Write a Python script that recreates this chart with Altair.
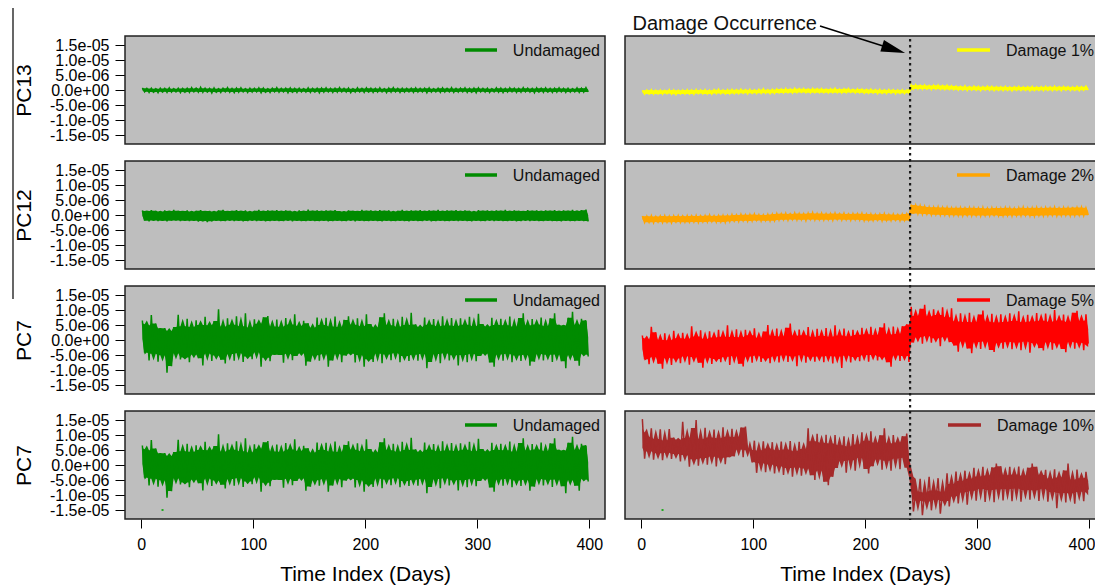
import altair as alt
import pandas as pd

# ---------------- data (series values in units of 1e-06) ----------------
# one reading every 2 days, starting at day 1

pc13_undamaged = [
    0.7, -0.6, 0.5, -0.8, 0.6, -0.7, 0.4, -0.9, 0.6, -0.6, 0.5, -0.8, 0.7, -0.7, 0.4, -0.6, 0.6, -0.9, 0.5, -0.7,
    0.6, -0.8, 0.8, -0.6, 0.5, -0.7, 0.9, -0.8, 0.6, -0.6, 0.5, -1.0, 0.7, -0.7, 0.4, -0.8, 0.6, -0.6, 0.8, -0.7,
    0.5, -0.9, 0.6, -0.7, 0.7, -0.6, 0.4, -0.8, 0.6, -0.7, 0.5, -0.6, 0.7, -0.9, 0.6, -0.7, 0.4, -0.8, 0.6, -0.6,
    0.8, -0.7, 0.5, -0.6, 0.6, -0.9, 0.7, -0.7, 0.5, -0.8, 0.6, -0.6, 0.4, -0.7, 0.7, -0.8, 0.5, -0.6, 0.6, -0.9,
    0.6, -0.7, 0.7, -0.6, 0.5, -0.8, 0.6, -0.7, 0.8, -0.6, 0.5, -0.7, 0.6, -0.9, 0.4, -0.7, 0.7, -0.6, 0.5, -0.8,
    0.7, -0.6, 0.6, -0.8, 0.5, -0.7, 0.7, -0.6, 0.4, -0.9, 0.6, -0.7, 0.8, -0.6, 0.5, -0.8, 0.6, -0.7, 0.5, -0.6,
    0.6, -0.8, 0.7, -0.7, 0.5, -0.6, 0.6, -0.9, 0.7, -0.7, 0.4, -0.6, 0.6, -0.8, 0.7, -0.7, 0.5, -0.6, 0.8, -0.8,
    0.5, -0.7, 0.6, -0.6, 0.7, -0.8, 0.5, -0.7, 0.6, -0.9, 0.7, -0.6, 0.5, -0.7, 0.6, -0.8, 0.4, -0.6, 0.7, -0.7,
    0.6, -0.9, 0.5, -0.7, 0.7, -0.6, 0.6, -0.8, 0.5, -0.7, 0.8, -0.6, 0.6, -0.7, 0.5, -0.9, 0.7, -0.6, 0.6, -0.8,
    0.7, -0.6, 0.5, -0.8, 0.6, -0.7, 0.7, -0.6, 0.5, -0.8, 0.6, -0.7, 0.4, -0.6, 0.7, -0.8, 0.6, -0.7, 0.8, -0.6,
]

pc13_damage1 = [
    -0.1, -1.4, 0.0, -1.3, 0.1, -1.4, -0.1, -1.3, 0.0, -1.4, -0.1, -1.2, 0.1, -1.4, 0.0, -1.5, -0.1, -1.3, 0.0, -1.4,
    0.1, -1.3, 0.0, -1.4, 0.2, -1.2, 0.0, -1.3, 0.1, -1.3, -0.1, -1.4, 0.1, -1.2, 0.3, -1.2, 0.0, -1.3, 0.1, -1.3,
    0.2, -1.2, 0.1, -1.2, 0.3, -1.1, 0.1, -1.3, 0.2, -1.1, 0.0, -1.2, 0.2, -1.1, 0.4, -1.1, 0.1, -1.2, 0.2, -1.1,
    0.4, -1.0, 0.3, -1.0, 0.5, -0.9, 0.3, -1.0, 0.6, -0.9, 0.4, -0.8, 0.5, -0.9, 0.3, -1.0, 0.5, -0.9, 0.4, -0.9,
    0.5, -0.9, 0.3, -1.0, 0.4, -0.9, 0.6, -0.9, 0.3, -1.0, 0.4, -0.9, 0.5, -0.8, 0.2, -1.0, 0.4, -0.9, 0.3, -1.1,
    0.2, -1.1, 0.3, -1.0, 0.1, -1.2, 0.2, -1.1, 0.0, -1.2, 0.2, -1.0, 0.1, -1.3, 0.0, -1.1, 0.1, -1.2, -0.1, -1.1,
    1.7, 0.3, 1.8, 0.3, 1.6, 0.2, 1.7, 0.3, 1.5, 0.1, 1.6, 0.3, 1.7, 0.2, 1.5, 0.1, 1.6, 0.2, 1.4, 0.1,
    1.3, -0.1, 1.2, 0.0, 1.4, -0.2, 1.1, 0.0, 1.3, -0.1, 1.2, -0.2, 1.1, 0.0, 1.3, -0.1, 1.2, -0.2, 1.1, -0.1,
    1.1, -0.2, 1.2, -0.1, 1.0, -0.3, 1.1, -0.1, 1.2, -0.2, 1.0, -0.1, 1.1, -0.3, 1.2, -0.2, 1.0, -0.1, 1.1, -0.2,
    1.2, -0.1, 1.1, -0.2, 1.3, -0.1, 1.1, -0.2, 1.2, 0.0, 1.1, -0.2, 1.0, -0.1, 1.2, -0.2, 1.1, -0.1, 1.3, 0.0,
]

pc12_undamaged = [
    1.5, -1.9, 1.3, -2.1, 1.6, -1.8, 1.4, -2.0, 1.2, -1.9, 1.5, -2.1, 1.3, -1.9, 1.7, -1.8, 1.4, -2.0, 1.3, -1.9,
    1.5, -2.0, 1.2, -1.9, 1.4, -2.2, 1.6, -2.0, 1.3, -2.4, 1.4, -2.1, 1.2, -1.9, 1.5, -2.0, 1.7, -2.0, 1.3, -1.8,
    1.4, -2.0, 1.6, -1.9, 1.3, -2.1, 1.5, -2.0, 1.2, -1.8, 1.4, -2.0, 1.7, -1.9, 1.3, -2.1, 1.5, -2.0, 1.4, -1.9,
    1.6, -2.0, 1.3, -2.0, 1.5, -1.8, 1.4, -2.1, 1.2, -1.9, 1.5, -2.0, 1.3, -2.0, 1.8, -1.9, 1.4, -2.0, 1.5, -2.0,
    1.3, -1.9, 1.5, -2.1, 1.4, -2.0, 1.6, -1.9, 1.3, -2.0, 1.2, -2.0, 1.5, -1.8, 1.4, -2.1, 1.3, -1.9, 1.7, -2.0,
    1.4, -2.0, 1.5, -1.9, 1.3, -2.0, 1.6, -2.1, 1.4, -1.9, 1.5, -2.0, 1.2, -2.0, 1.4, -1.9, 1.7, -2.0, 1.3, -2.1,
    1.5, -1.9, 1.4, -2.0, 1.6, -2.0, 1.3, -1.8, 1.5, -2.1, 1.4, -2.0, 1.7, -1.9, 1.3, -2.0, 1.5, -2.0, 1.4, -1.9,
    1.6, -2.0, 1.3, -1.9, 1.5, -2.0, 1.4, -2.1, 1.2, -1.9, 1.6, -2.0, 1.4, -2.0, 1.5, -1.8, 1.3, -2.0, 1.5, -1.9,
    1.4, -2.0, 1.7, -2.0, 1.3, -1.9, 1.5, -2.1, 1.4, -2.0, 1.3, -1.8, 1.6, -2.0, 1.4, -1.9, 1.5, -2.0, 1.3, -2.0,
    1.5, -1.9, 1.4, -2.0, 1.6, -2.0, 1.3, -2.1, 1.5, -1.9, 1.4, -2.0, 1.7, -2.0, 1.3, -1.9, 1.6, -2.0, 1.8, -2.1,
]

pc12_damage2 = [
    -0.3, -2.5, -0.4, -2.4, -0.2, -2.6, -0.5, -2.3, -0.3, -2.5, -0.2, -2.4, -0.4, -2.6, -0.3, -2.3, -0.2, -2.5, -0.4, -2.4,
    -0.2, -2.4, -0.3, -2.3, -0.1, -2.5, -0.3, -2.3, -0.2, -2.4, 0.0, -2.2, -0.3, -2.4, -0.2, -2.3, -0.1, -2.5, -0.2, -2.2,
    0.1, -2.0, 0.0, -2.2, 0.3, -1.9, 0.1, -2.1, 0.2, -2.0, 0.4, -1.8, 0.1, -2.1, 0.0, -1.9, 0.2, -2.0, 0.3, -1.9,
    0.5, -1.7, 0.4, -1.6, 0.6, -1.8, 0.3, -1.5, 0.7, -1.7, 0.5, -1.6, 0.4, -1.9, 0.6, -1.5, 0.8, -1.7, 0.5, -1.6,
    0.6, -1.7, 0.4, -1.6, 0.5, -1.8, 0.7, -1.5, 0.4, -1.7, 0.6, -1.6, 0.3, -1.8, 0.5, -1.6, 0.4, -1.7, 0.6, -1.9,
    0.3, -1.8, 0.4, -1.9, 0.2, -1.7, 0.3, -2.0, 0.5, -1.8, 0.2, -1.9, 0.3, -1.7, 0.1, -2.0, 0.3, -1.8, 0.4, -1.9,
    3.5, 0.5, 3.3, 0.4, 3.1, 0.2, 2.9, 0.3, 2.7, 0.0, 2.6, 0.1, 2.7, -0.1, 2.5, 0.0, 2.6, -0.2, 2.4, -0.1,
    2.4, -0.2, 2.5, -0.3, 2.3, -0.1, 2.5, -0.3, 2.4, -0.2, 2.3, -0.4, 2.5, -0.2, 2.2, -0.3, 2.4, -0.1, 2.3, -0.3,
    2.3, -0.3, 2.5, -0.2, 2.4, -0.4, 2.2, -0.2, 2.4, -0.3, 2.6, -0.1, 2.3, -0.3, 2.4, -0.4, 2.5, -0.2, 2.3, -0.3,
    2.5, -0.2, 2.4, -0.1, 2.6, -0.3, 2.3, -0.2, 2.5, -0.1, 2.4, -0.3, 2.7, -0.2, 2.5, -0.1, 2.6, -0.2, 2.4, 0.0,
]

pc7_undamaged = [
    6.5, -4.2, 4.8, -6.8, 8.3, -4.6, 5.5, -7.2, 3.9, -5.1, 4.0, -10.9, 3.0, -8.7, 4.3, -4.4, 8.4, -6.5, 4.6, -5.8,
    7.1, -7.4, 4.3, -4.8, 6.6, -6.1, 5.0, -8.5, 7.7, -4.5, 4.9, -7.0, 6.3, -5.2, 10.2, -6.6, 4.4, -7.8, 7.2, -4.7,
    5.1, -6.9, 7.9, -4.3, 4.6, -7.3, 8.9, -5.5, 4.2, -6.4, 6.9, -4.1, 5.4, -8.9, 7.6, -5.9, 8.0, -7.1, 4.5, -4.9,
    6.8, -5.0, 4.4, -7.6, 7.3, -4.6, 5.2, -6.7, 8.6, -5.3, 4.7, -4.4, 6.4, -8.6, 5.6, -7.2, 4.1, -5.1, 7.5, -6.9,
    5.0, -4.7, 7.4, -8.9, 4.5, -6.8, 7.8, -4.6, 4.3, -7.4, 6.7, -5.2, 7.9, -4.5, 5.1, -7.5, 7.2, -5.0, 4.6, -8.9,
    8.6, -6.4, 5.3, -7.3, 4.2, -4.5, 7.6, -7.7, 8.9, -4.8, 4.9, -6.7, 7.1, -4.3, 4.4, -7.4, 7.7, -5.3, 5.0, -7.0,
    9.1, -4.9, 5.2, -6.9, 4.3, -4.6, 7.5, -9.4, 5.1, -7.3, 7.0, -4.7, 4.6, -7.7, 7.9, -4.4, 4.8, -6.8, 7.3, -5.1,
    4.7, -8.5, 7.2, -5.0, 5.1, -7.4, 7.7, -4.6, 4.6, -7.1, 8.7, -5.3, 5.3, -4.5, 4.5, -7.5, 7.4, -8.9, 5.0, -4.8,
    7.1, -6.9, 4.9, -4.6, 7.8, -7.4, 4.4, -5.2, 7.3, -7.0, 8.9, -4.9, 4.8, -8.6, 7.0, -7.2, 5.2, -4.7, 7.5, -6.8,
    4.6, -4.9, 7.2, -7.3, 8.9, -4.8, 5.1, -7.1, 4.8, -9.4, 7.4, -5.0, 9.4, -6.9, 5.0, -8.6, 7.1, -4.6, 6.5, -5.5,
]

pc7_damage5 = [
    1.5, -6.4, 0.2, -8.1, 4.4, -5.6, 2.6, -7.9, 0.0, -9.6, 2.2, -5.9, -0.1, -8.3, 3.1, -6.2, 0.6, -7.7, 2.4, -5.4,
    0.4, -8.2, 4.6, -5.7, 1.2, -7.6, 3.2, -9.2, 0.3, -5.8, 2.9, -8.0, 0.8, -6.3, 3.4, -7.4, 1.1, -5.6, 4.9, -8.3,
    1.0, -5.3, 3.6, -7.9, 0.9, -8.8, 3.4, -5.5, 1.6, -7.6, 3.9, -5.2, 0.7, -7.3, 2.8, -6.1, 5.0, -7.7, 1.3, -5.4,
    3.8, -7.5, 1.2, -5.1, 4.1, -7.3, 5.5, -5.4, 1.4, -8.7, 3.5, -5.0, 1.6, -7.6, 4.3, -5.6, 1.0, -7.2, 3.7, -5.5,
    1.3, -7.4, 4.0, -5.3, 1.1, -7.8, 4.9, -5.5, 1.5, -9.3, 3.8, -5.2, 1.2, -7.5, 3.4, -5.7, 1.7, -7.1, 4.1, -5.0,
    1.9, -7.2, 4.4, -5.0, 1.6, -6.8, 4.2, -5.6, 5.6, -7.4, 1.8, -8.9, 4.5, -5.1, 2.0, -7.0, 4.6, -5.3, 5.2, -7.3,
    11.1, -0.8, 8.0, 0.9, 10.4, -1.2, 11.7, 1.3, 7.8, -0.9, 10.2, 0.6, 8.3, -2.1, 10.9, 1.0, 7.6, -0.7, 10.6, -1.8,
    6.2, -3.9, 8.9, -0.4, 6.0, -2.8, 9.1, -4.4, 5.9, -0.7, 8.5, -3.0, 9.8, -0.5, 6.1, -3.3, 8.7, -4.0, 5.8, -0.9,
    8.6, -2.9, 6.0, -0.6, 8.9, -3.1, 6.3, -0.8, 9.6, -3.4, 5.9, -0.5, 8.4, -4.2, 6.2, -1.0, 9.0, -2.7, 6.4, -3.5,
    8.8, -0.7, 6.1, -3.2, 10.0, -1.1, 6.5, -3.0, 8.5, -4.1, 6.0, -0.6, 9.1, -2.9, 9.7, -0.9, 6.3, -3.4, 8.6, -1.2,
]

pc7_damage10 = [
    15.3, 2.1, 9.4, 4.6, 12.2, 1.8, 8.7, 3.9, 11.9, 1.6, 8.2, 4.1, 12.0, 2.0, 9.1, 3.7, 8.4, 1.2, 14.4, 3.3,
    9.0, -0.6, 12.3, 1.9, 15.0, -0.2, 8.6, 2.3, 12.4, 0.1, 9.2, 2.8, 11.8, -0.5, 8.9, 2.4, 12.6, 0.3, 9.4, 2.6,
    12.1, 2.9, 9.3, 5.2, 12.5, 2.6, 12.8, 4.9, 5.0, 0.9, 8.1, -2.6, 4.8, 0.6, 7.9, -2.4, 5.5, 0.2, 7.6, -2.8,
    4.9, -0.4, 7.8, -3.3, 5.2, -1.0, 8.0, -3.9, 4.6, -0.8, 7.7, -3.6, 5.3, -1.2, 12.2, -3.4, 7.9, -5.0, 10.4, -1.8,
    7.4, -5.6, 10.1, -6.7, 7.2, -3.9, 10.0, -1.0, 6.6, 1.3, 9.6, -2.6, 6.2, 1.6, 10.3, -1.9, 6.8, 2.4, 10.9, -1.3,
    8.1, -2.8, 11.2, -0.4, 7.3, 1.9, 9.9, -1.6, 12.2, 1.4, 7.2, -1.9, 10.0, 2.2, 7.5, -1.4, 9.6, 2.4, 10.5, -0.9,
    -3.9, -15.5, -8.8, -11.9, -4.6, -16.7, -9.2, -12.2, -3.9, -15.1, -8.5, -11.6, -4.4, -16.2, -8.9, -12.0, -2.8, -13.8, -6.3, -10.4,
    -2.2, -12.8, -5.3, -9.1, -1.9, -13.2, -4.6, -8.6, -0.9, -11.9, -3.8, -7.9, -0.6, -12.3, -3.5, -8.3, -0.8, -12.4, 0.5, -8.1,
    -0.4, -11.8, -3.4, -8.0, -0.6, -12.1, -3.2, -7.8, -0.5, -12.2, -3.6, -8.3, -0.9, -11.6, 0.5, -8.4, -0.6, -12.0, -3.3, -7.9,
    -1.6, -12.2, -4.6, -9.0, -1.4, -14.4, -4.2, -9.3, -1.8, -12.5, 0.5, -9.4, -4.9, -12.9, -1.5, -8.9, -4.4, -12.1, -2.3, -8.2,
]

damage_day = [240]
stray_day = [19]
stray_value = [-1.5e-05]

row_titles = ["PC13", "PC12", "PC7", "PC7"]
left_label = "Undamaged"
right_labels = ["Damage 1%", "Damage 2%", "Damage 5%", "Damage 10%"]
left_series = [pc13_undamaged, pc12_undamaged, pc7_undamaged, pc7_undamaged]
right_series = [pc13_damage1, pc12_damage2, pc7_damage5, pc7_damage10]

y_tick_values = [1.5e-05, 1.0e-05, 5.0e-06, 0.0, -5.0e-06, -1.0e-05, -1.5e-05]
y_tick_labels = ["1.5e-05", "1.0e-05", "5.0e-06", "0.0e+00", "-5.0e-06", "-1.0e-05", "-1.5e-05"]
x_tick_values = [0, 100, 200, 300, 400]
annotation_text = "Damage Occurrence"
x_title = "Time Index (Days)"

# ---------------- layout / styling (pixel positions inside the plot area) ----------------
FONT = "Liberation Sans"
GREEN = "#008B00"
right_colors = ["#FFFF00", "#FFA500", "#FF0000", "#A52A2A"]
W_ALL, H_ALL = 1087, 577
col_x = [(117, 597), (617, 1097)]
row_y = [(28 + 125 * r, 136 + 125 * r) for r in range(4)]
X_DOMAIN = [-14.5, 414]
Y_DOMAIN = [-1.8e-05, 1.8e-05]
left_legend = (457, 489, 592)
right_legend = [(949, 982, 1086), (949, 982, 1086), (949, 982, 1086), (940, 973, 1086)]

label_expr = (
    "[" + ",".join("'%s'" % s for s in y_tick_labels) + "]"
    + "[indexof([" + ",".join(repr(v) for v in y_tick_values) + "], datum.value)]"
)


def x_axis(col):
    if col == 1:
        extra = dict(labelFlush=16, labelFlushOffset=5.5)
    else:
        extra = dict(labelFlush=False)
    return alt.Axis(
        orient="bottom", offset=(row_y[3][1] - H_ALL), values=x_tick_values, format="d",
        title=x_title, titleFontSize=21, titleFont=FONT, titleFontWeight="normal", titleColor="#000",
        titleY=55, titleBaseline="middle",
        labelFontSize=16, labelFont=FONT, labelColor="#000", labelPadding=16, labelBaseline="middle",
        tickSize=9, tickColor="#000", tickWidth=1,
        domain=False, grid=False, labelOverlap=False, **extra,
    )


def y_axis(row):
    return alt.Axis(
        orient="left", offset=-col_x[0][0], values=y_tick_values, labelExpr=label_expr,
        title=row_titles[row], titleFontSize=21, titleFont=FONT, titleFontWeight="normal", titleColor="#000",
        titleAngle=270, titleX=-91, titleY=row_y[row][0] + 54, titleAlign="center", titleBaseline="bottom",
        labelFontSize=16, labelFont=FONT, labelColor="#000", labelPadding=6,
        tickSize=10, tickColor="#000", tickWidth=1,
        domain=False, grid=False, labelOverlap=False, labelFlush=False,
    )


def days_for(values):
    return [1 + 2 * i for i in range(len(values))]


one_row = pd.DataFrame({"k": [0]})
ARROW = "M-1,-0.5L1,0L-1,0.5Z"


def panel(row, col):
    x0, x1 = col_x[col]
    yt, yb = row_y[row]
    if col == 0:
        values, color, label = left_series[row], GREEN, left_label
        lg = left_legend
    else:
        values, color, label = right_series[row], right_colors[row], right_labels[row]
        lg = right_legend[row]
    xa = x_axis(col) if row == 3 else None
    ya = y_axis(row) if col == 0 else None
    xs = alt.Scale(domain=X_DOMAIN, range=[x0, x1], nice=False, zero=False)
    ys = alt.Scale(domain=Y_DOMAIN, range=[yb, yt], nice=False, zero=False)
    X = alt.X("day:Q", scale=xs, axis=xa)

    df = pd.DataFrame({"day": days_for(values), "value": [v * 1e-06 for v in values]})

    layers = [
        alt.Chart(one_row).mark_rect(fill="#BEBEBE", stroke="#222222", strokeWidth=1.5).encode(
            x=alt.value(x0), x2=alt.value(x1), y=alt.value(yt), y2=alt.value(yb)),
        alt.Chart(df).transform_window(
            lo="q1(value)", hi="q3(value)", frame=[-2, 2], sort=[alt.SortField("day")]
        ).mark_area(color=color, opacity=1).encode(
            x=X, y=alt.Y("lo:Q", scale=ys, axis=ya), y2="hi:Q"),
        alt.Chart(df).mark_line(color=color, strokeWidth=1.5).encode(
            x=X, y=alt.Y("value:Q", scale=ys, axis=ya)),
    ]

    if row == 3:
        sdf = pd.DataFrame({"day": stray_day, "value": stray_value})
        layers.append(alt.Chart(sdf).mark_square(size=4, color="#22aa22", opacity=1).encode(
            x=X, y=alt.Y("value:Q", scale=ys, axis=ya)))

    # legend
    ldf = pd.DataFrame({"label": [label]})
    layers.append(alt.Chart(ldf).mark_rule(color=color, strokeWidth=3.5).encode(
        x=alt.value(lg[0]), x2=alt.value(lg[1]), y=alt.value(yt + 14)))
    layers.append(alt.Chart(ldf).mark_text(align="right", baseline="middle", fontSize=16, font=FONT,
                                           color="#111").encode(
        x=alt.value(lg[2]), y=alt.value(yt + 15), text="label:N"))

    if row == 0 and col == 0:
        layers.append(alt.Chart(one_row).mark_rule(color="#000", strokeWidth=1.2).encode(
            x=alt.value(5), y=alt.value(0), y2=alt.value(291)))

    if row == 0 and col == 1:
        adf = pd.DataFrame({"t": [annotation_text]})
        layers.append(alt.Chart(adf).mark_text(align="right", baseline="middle", fontSize=20, font=FONT,
                                               color="#111").encode(
            x=alt.value(809), y=alt.value(16), text="t:N"))
        layers.append(alt.Chart(one_row).mark_rule(color="#000", strokeWidth=1.5).encode(
            x=alt.value(812), y=alt.value(18), x2=alt.value(875), y2=alt.value(38)))
        layers.append(alt.Chart(one_row).mark_point(shape=ARROW, filled=True, size=576, angle=17.6,
                                                    color="#000", opacity=1, strokeWidth=0).encode(
            x=alt.value(885.6), y=alt.value(41.4)))

    if row == 3 and col == 1:
        ddf = pd.DataFrame({"day": damage_day})
        layers.append(alt.Chart(ddf).mark_rule(color="#1a1a1a", strokeWidth=2.2, strokeDash=[2.5, 3.5]).encode(
            x=X, y=alt.value(31), y2=alt.value(512)))

    return alt.layer(*layers)


panels = [panel(r, c) for r in range(4) for c in range(2)]

chart = alt.layer(*panels).resolve_scale(
    x="independent", y="independent"
).properties(
    width=W_ALL, height=H_ALL,
    autosize=alt.AutoSizeParams(type="none"),
    padding={"left": 0, "top": 0, "right": 0, "bottom": 0},
).configure(font=FONT, background="white").configure_view(stroke="transparent", fill="white")

chart.save("out.html", embed_options={"renderer": "svg", "actions": False})
